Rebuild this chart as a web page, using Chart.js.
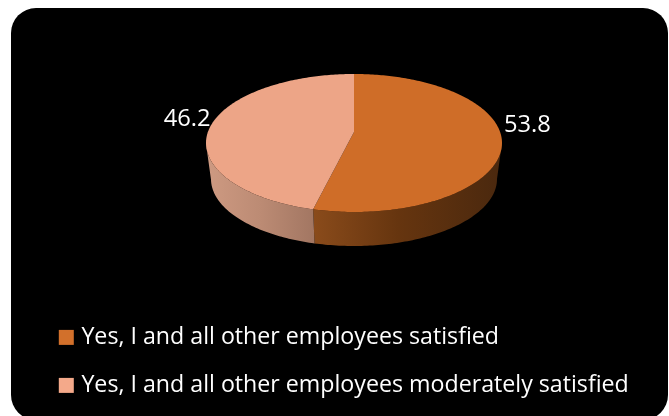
<!DOCTYPE html>
<html>
<head>
<meta charset="utf-8">
<style>
  html, body { margin: 0; padding: 0; background: #fff; overflow: hidden; }
  #panel { position: absolute; left: 11px; top: 8px; width: 657px; height: 412px; background: #000; border-radius: 25px; }
  #stage { position: absolute; left: 0; top: 0; }
</style>
<script src="https://cdn.jsdelivr.net/npm/chart.js@4"></script>
</head>
<body>
<div id="panel"></div>
<canvas id="stage" width="669" height="416"></canvas>
<script>
const categories = [
  'Yes, I and all other employees satisfied',
  'Yes, I and all other employees moderately satisfied'
];
const shares = [53.8, 46.2];
const topColors = ['#CF6D28', '#EDA587'];
const legendColors = ['#D2702B', '#F4A98A'];

// Horizontal shading of the rim for each slice, left to right.
const wallStops = [
  [[0, '#8A4B1B'], [0.45, '#66350F'], [1, '#4A280E']],
  [[0, '#CE9A82'], [0.5, '#BC8B74'], [1, '#A27662']]
];
const labelOffsets = [[2, -15], [-1, -5]];

// Tilted disc: top face, lower rim, and the shift of the apex towards the back.
const disc = { cx: 354, topY: 143, rx: 148, ry: 69, bottomY: 179, bottomRx: 143, bottomRy: 67, tilt: 0.159 };

// Perspective mapping of a point on the unit circle, angle measured clockwise from 12 o'clock.
function project(theta) {
  const u = Math.sin(theta), v = Math.cos(theta), d = 1 + disc.tilt * v;
  return { u: u * Math.sqrt(1 - disc.tilt * disc.tilt) / d, v: (v + disc.tilt) / d };
}
const topPoint = p => [disc.cx + disc.rx * p.u, disc.topY - disc.ry * p.v];
const lowPoint = p => [disc.cx + disc.bottomRx * p.u, disc.bottomY - disc.bottomRy * p.v];

function rimSamples(el) {
  const start = el.startAngle + Math.PI / 2, end = el.endAngle + Math.PI / 2, out = [];
  const n = Math.ceil((end - start) * 60);
  for (let i = 0; i <= n; i++) out.push(project(start + (end - start) * i / n));
  return out;
}

const tiltedPie = {
  id: 'tiltedPie',
  beforeDatasetsDraw(chart) {
    const ctx = chart.ctx, arcs = chart.getDatasetMeta(0).data;
    ctx.save();

    // Visible rim: only the part of each slice facing the viewer.
    arcs.forEach((el, i) => {
      const front = rimSamples(el).filter(p => p.v <= 0);
      if (front.length < 2) return;
      const upper = front.map(topPoint), lower = front.map(lowPoint).reverse();
      const xs = upper.concat(lower).map(p => p[0]);
      const g = ctx.createLinearGradient(Math.min(...xs), 0, Math.max(...xs), 0);
      wallStops[i].forEach(s => g.addColorStop(s[0], s[1]));
      ctx.beginPath();
      upper.concat(lower).forEach((p, k) => k ? ctx.lineTo(p[0], p[1]) : ctx.moveTo(p[0], p[1]));
      ctx.closePath();
      ctx.fillStyle = g;
      ctx.fill();
    });

    // Top face.
    const apex = topPoint({ u: 0, v: disc.tilt });
    arcs.forEach((el, i) => {
      ctx.beginPath();
      ctx.moveTo(apex[0], apex[1]);
      rimSamples(el).map(topPoint).forEach(p => ctx.lineTo(p[0], p[1]));
      ctx.closePath();
      ctx.fillStyle = topColors[i];
      ctx.fill();
    });

    // Value labels beside the rim.
    ctx.fillStyle = '#fff';
    ctx.font = '23.7px "Open Sans"';
    ctx.textBaseline = 'middle';
    arcs.forEach((el, i) => {
      const mid = (el.startAngle + el.endAngle) / 2 + Math.PI / 2;
      const p = topPoint(project(mid));
      ctx.textAlign = labelOffsets[i][0] > 0 ? 'left' : 'right';
      ctx.fillText(String(shares[i]), p[0] + labelOffsets[i][0], p[1] + labelOffsets[i][1]);
    });

    ctx.restore();
    return false;
  }
};

new Chart(document.getElementById('stage'), {
  type: 'pie',
  data: {
    labels: categories,
    datasets: [{ data: shares, backgroundColor: legendColors, borderWidth: 0 }]
  },
  plugins: [tiltedPie],
  options: {
    responsive: false,
    animation: false,
    layout: { padding: { left: 38, bottom: 9 } },
    plugins: {
      tooltip: { enabled: false },
      legend: {
        position: 'bottom',
        align: 'start',
        labels: {
          color: '#fff',
          usePointStyle: true,
          pointStyle: 'rect',
          boxWidth: 7,
          boxHeight: 15,
          padding: 24.8,
          font: { family: 'Open Sans', size: 23.2 }
        }
      }
    }
  }
});
</script>
</body>
</html>
